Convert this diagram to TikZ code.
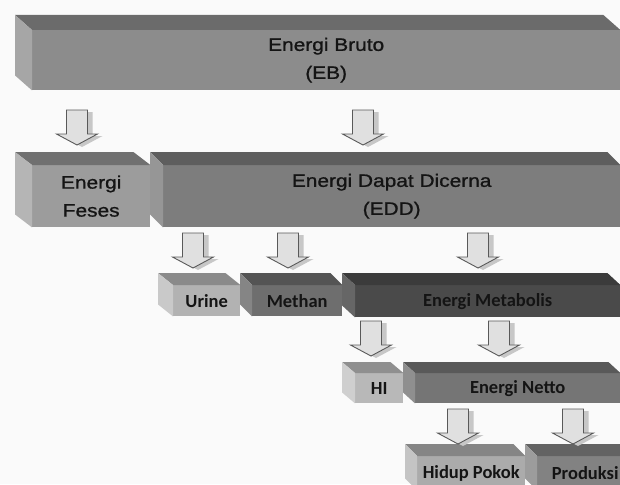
\documentclass[tikz,border=0pt]{standalone}
\usepackage{fontspec}
\newfontfamily\judul[FakeStretch=1.16,FakeBold=1]{Liberation Sans}
\newfontfamily\subjudul{Carlito}
\usetikzlibrary{
    calc
}
\tikzset{
  muka/.style={
    rectangle,
    inner sep=0pt,
    anchor=north west,
    align=center,
    text=black!92
  },
  besar/.style={
    muka,
    font=\judul\fontsize{18}{28}\selectfont
  },
  kecil/.style={
    muka,
    font=\subjudul\bfseries\fontsize{18.5}{21}\selectfont
  },
  panah/.pic={
    \fill[black!22,shift={(5,2)}] (-10.5,0) -- (10.5,0) -- (10.5,24) -- (20.5,24)
      -- (0,35) -- (-20.5,24) -- (-10.5,24) -- cycle;
    \draw[black!65,fill=black!12,line width=0.9pt] (-10.5,0) -- (10.5,0) -- (10.5,24)
      -- (20.5,24) -- (0,35) -- (-20.5,24) -- (-10.5,24) -- cycle;
  }
}
% sisi atas dan sisi kiri balok
\newcommand{\balok}[5]{
  \fill[#4] (#1.north west) -- ++(-#2,-#3) -- ($(#1.north east)+(-#2,-#3)$)
    -- (#1.north east) -- cycle;
  \fill[#5] (#1.north west) -- ++(-#2,-#3) -- ($(#1.south west)+(-#2,-#3)$)
    -- (#1.south west) -- cycle;
}

\begin{document}
\begin{tikzpicture}[x=1pt,y=-1pt]
    \useasboundingbox (0,0) rectangle (620,484);
    \clip (0,0) rectangle (620,484);
    \fill[black!2] (0,0) rectangle (620,484);

    % balok
    \node[besar,fill=black!45,minimum width=588pt,minimum height=60pt] (eb) at (32,30) {Energi Bruto\\(EB)};
    \node[besar,fill=black!39,minimum width=118pt,minimum height=62pt] (feses) at (32,165) {Energi\\Feses};
    \node[besar,fill=black!51,minimum width=457pt,minimum height=62pt] (edd) at (163,165) {Energi Dapat Dicerna\\(EDD)};
    \node[kecil,fill=black!30,minimum width=67pt,minimum height=31pt] (urine) at (173,285) {Urine};
    \node[kecil,fill=black!57,minimum width=90pt,minimum height=31pt] (methan) at (252,285) {Methan};
    \node[kecil,fill=black!71,minimum width=265pt,minimum height=32pt] (metabolis) at (355,285) {Energi Metabolis};
    \node[kecil,fill=black!28,minimum width=48pt,minimum height=30pt] (hi) at (355,373) {HI};
    \node[kecil,fill=black!54,minimum width=205pt,minimum height=30pt] (netto) at (415,373) {Energi Netto};
    \node[kecil,fill=black!33,minimum width=108pt,minimum height=34pt] (hidup) at (417,456) {Hidup Pokok};
    \node[kecil,fill=black!49,minimum width=96pt,minimum height=34pt] (produksi) at (537,456) {Produksi};

    \balok{eb}{17}{15}{black!58}{black!35}
    \balok{feses}{17}{13}{black!56}{black!29}
    \balok{edd}{13}{13}{black!63}{black!41}
    \balok{urine}{15}{12}{black!46}{black!21}
    \balok{methan}{12}{12}{black!67}{black!48}
    \balok{metabolis}{13}{12}{black!77}{black!60}
    \balok{hi}{13}{11}{black!44}{black!19}
    \balok{netto}{12}{11}{black!65}{black!44}
    \balok{hidup}{12}{12}{black!48}{black!23}
    \balok{produksi}{12}{12}{black!61}{black!39}

    % panah
    \pic at (77,110) {panah};
    \pic at (363,110) {panah};
    \pic at (193,233) {panah};
    \pic at (288,233) {panah};
    \pic at (478,233) {panah};
    \pic at (371,321) {panah};
    \pic at (499,321) {panah};
    \pic at (458,409) {panah};
    \pic at (573,409) {panah};
\end{tikzpicture}
\end{document}
